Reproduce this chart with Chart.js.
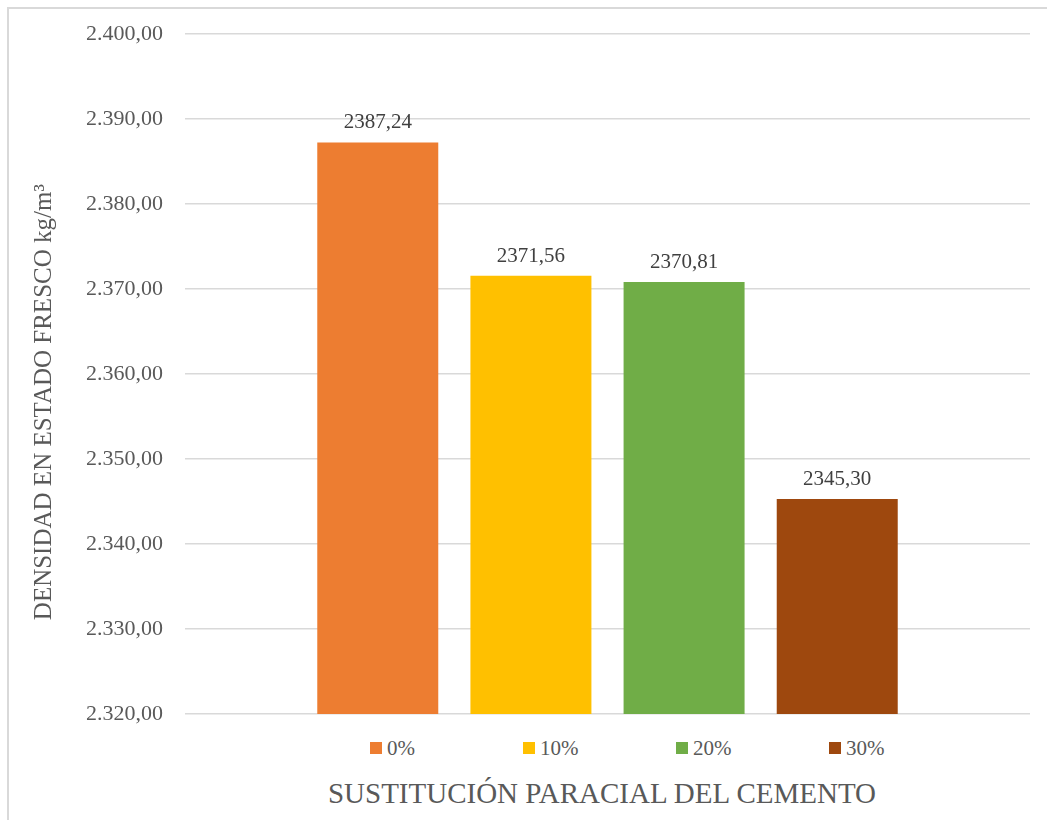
<!DOCTYPE html>
<html lang="es">

<head>
    <meta charset="UTF-8">
    <title>Densidad en estado fresco</title>
    <script src="https://cdn.jsdelivr.net/npm/chart.js"></script>
    <style>
        body { margin: 0; background: #fff; font-family: 'Liberation Serif', 'Times New Roman', serif; color: #595959; }
        #frame {
            position: absolute; left: 7px; top: 7px; width: 1040px; height: 813px;
            border-top: 2px solid #d9d9d9; border-left: 2px solid #d9d9d9;
        }
        #chartBox { position: relative; width: 1038px; height: 720px; }
        #legend {
            position: absolute; left: 361px; top: 727px; display: flex;
            font-size: 21px; line-height: 24px;
        }
        .item { width: 153px; display: flex; align-items: center; }
        .box { width: 12px; height: 12px; margin-right: 5px; }
        #xTitle {
            position: absolute; left: 293px; top: 767px; width: 600px;
            text-align: center; font-size: 29px; line-height: 34px;
        }
    </style>
</head>

<body>
    <div id="frame">
        <div id="chartBox"><canvas id="densityChart"></canvas></div>
        <div id="legend"></div>
        <div id="xTitle">SUSTITUCIÓN PARACIAL DEL CEMENTO</div>
    </div>

    <script>
        // porcentaje de sustitución del cemento y densidad medida (kg/m3)
        const series = ['0%', '10%', '20%', '30%'];
        const densities = [2387.24, 2371.56, 2370.81, 2345.30];
        const colors = ['#ED7D31', '#FFC000', '#70AD47', '#9E480E'];
        const yMin = 2320, yMax = 2400, yStep = 10;

        const serif = 'Liberation Serif, Times New Roman, serif';

        function fmtTick(v) {
            let parts = v.toFixed(2).split('.');
            let ent = parts[0].replace(/\B(?=(\d{3})+(?!\d))/g, '.');
            return ent + ',' + parts[1];
        }

        // etiqueta de valor encima de cada barra
        const valueLabels = {
            id: 'valueLabels',
            afterDatasetsDraw(chart) {
                const ctx = chart.ctx;
                ctx.save();
                ctx.font = '21px ' + serif;
                ctx.fillStyle = '#404040';
                ctx.textAlign = 'center';
                ctx.textBaseline = 'alphabetic';
                chart.data.datasets.forEach((ds, i) => {
                    const bar = chart.getDatasetMeta(i).data[0];
                    ctx.fillText(ds.data[0].toFixed(2).replace('.', ','), bar.x, bar.y - 14);
                });
                ctx.restore();
            }
        };

        const datasets = series.map((s, i) => ({
            label: s,
            data: [densities[i]],
            backgroundColor: colors[i],
            categoryPercentage: 0.725,
            barPercentage: 0.79
        }));

        // leyenda en HTML, un elemento por serie
        const legendEl = document.getElementById('legend');
        series.forEach((s, i) => {
            const item = document.createElement('div');
            item.className = 'item';
            item.innerHTML = '<span class="box" style="background:' + colors[i] + '"></span>' + s;
            legendEl.appendChild(item);
        });

        new Chart(document.getElementById('densityChart'), {
            type: 'bar',
            data: { labels: [''], datasets: datasets },
            plugins: [valueLabels],
            options: {
                responsive: true,
                maintainAspectRatio: false,
                animation: false,
                layout: { padding: { top: 25, right: 17, left: 0, bottom: 7 } },
                plugins: {
                    tooltip: { enabled: false },
                    legend: { display: false }
                },
                scales: {
                    x: {
                        grid: { display: false },
                        border: { display: false },
                        ticks: { display: false }
                    },
                    y: {
                        min: yMin, max: yMax,
                        afterFit(scale) {
                            scale.width = 176;
                            scale.paddingTop = 0;
                            scale.paddingBottom = 0;
                        },
                        ticks: {
                            stepSize: yStep,
                            padding: 22,
                            color: '#595959',
                            font: { family: serif, size: 22 },
                            callback: v => fmtTick(v)
                        },
                        grid: { color: '#d9d9d9', lineWidth: 1.5, drawTicks: false },
                        border: { display: false },
                        title: {
                            display: true,
                            // espacios finales para bajar un poco el texto
                            text: 'DENSIDAD EN ESTADO FRESCO kg/m³\u00A0\u00A0\u00A0\u00A0\u00A0\u00A0\u00A0\u00A0\u00A0',
                            color: '#595959',
                            font: { family: serif, size: 25 },
                            padding: { top: 20, bottom: 0 }
                        }
                    }
                }
            }
        });
    </script>
</body>

</html>
